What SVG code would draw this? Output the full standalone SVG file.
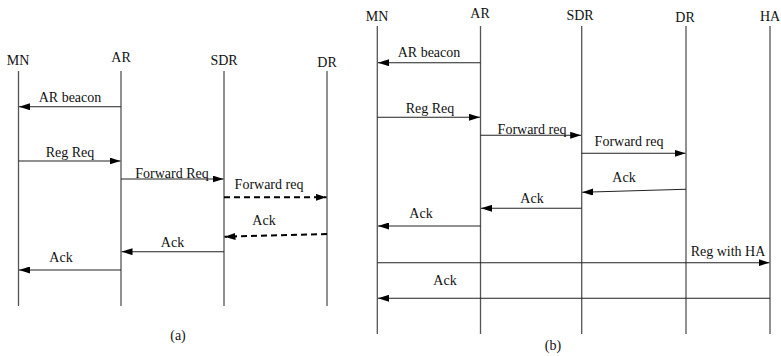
<svg xmlns="http://www.w3.org/2000/svg" width="781" height="356" viewBox="0 0 781 356">
<defs>
<marker id="ah" markerWidth="11" markerHeight="7" refX="11" refY="3.5" orient="auto" markerUnits="userSpaceOnUse">
<path d="M0,0 L11,3.5 L0,7 Z" fill="#000"/>
</marker>
<style>
text{font-family:"Liberation Serif","Times New Roman",serif;font-size:14px;fill:#111;text-anchor:middle}
.life{stroke:#555;stroke-width:1.3;fill:none}
.msg{stroke:#222;stroke-width:1.1;fill:none;marker-end:url(#ah)}
.dash{stroke:#000;stroke-width:2;stroke-dasharray:6,4;fill:none;marker-end:url(#ah)}
</style>
</defs>
<rect width="781" height="356" fill="#fff"/>
<!-- Diagram (a) -->
<g id="a-MN"><text x="18" y="65">MN</text><line class="life" x1="18.5" y1="71" x2="18.5" y2="306"/></g>
<g id="a-AR"><text x="121" y="62">AR</text><line class="life" x1="121" y1="71" x2="121" y2="306"/></g>
<g id="a-SDR"><text x="224" y="65">SDR</text><line class="life" x1="224" y1="71" x2="224" y2="306"/></g>
<g id="a-DR"><text x="327" y="67">DR</text><line class="life" x1="327" y1="71" x2="327" y2="306"/></g>
<g id="a-connectors">
<line class="msg" x1="121" y1="106.7" x2="19" y2="106.7"/>
<text x="70" y="101.7">AR beacon</text>
<line class="msg" x1="18.5" y1="161" x2="120.5" y2="161"/>
<text x="70" y="156.7">Reg Req</text>
<line class="msg" x1="121" y1="179" x2="223.5" y2="179"/>
<text x="172" y="178">Forward Req</text>
<line class="dash" x1="224" y1="197.3" x2="326.5" y2="197.3"/>
<text x="269" y="189">Forward req</text>
<line class="dash" x1="327" y1="234" x2="224.5" y2="236.7"/>
<text x="264" y="225">Ack</text>
<line class="msg" x1="224" y1="251.7" x2="121.5" y2="251.7"/>
<text x="172.5" y="246.7">Ack</text>
<line class="msg" x1="121" y1="270" x2="19" y2="270"/>
<text x="61" y="261.7">Ack</text>
</g>
<text x="178" y="340">(a)</text>
<!-- Diagram (b) -->
<g id="b-MN"><text x="377" y="20.5">MN</text><line class="life" x1="377.3" y1="26" x2="377.3" y2="334"/></g>
<g id="b-AR"><text x="480" y="17.5">AR</text><line class="life" x1="480.5" y1="26" x2="480.5" y2="334"/></g>
<g id="b-SDR"><text x="580" y="20">SDR</text><line class="life" x1="581.7" y1="26" x2="581.7" y2="334"/></g>
<g id="b-DR"><text x="685" y="21.7">DR</text><line class="life" x1="686" y1="26" x2="686" y2="334"/></g>
<g id="b-HA"><text x="770" y="20.7">HA</text><line class="life" x1="770" y1="26" x2="770" y2="334"/></g>
<g id="b-connectors">
<line class="msg" x1="480.5" y1="62.7" x2="378" y2="62.7"/>
<text x="429" y="57.3">AR beacon</text>
<line class="msg" x1="377.3" y1="117.3" x2="480" y2="117.3"/>
<text x="430" y="113.3">Reg Req</text>
<line class="msg" x1="480.5" y1="135.3" x2="581.2" y2="135.3"/>
<text x="532" y="134.3">Forward req</text>
<line class="msg" x1="581.7" y1="153.3" x2="685.5" y2="153.3"/>
<text x="629" y="145.7">Forward req</text>
<line class="msg" x1="686" y1="189.3" x2="582.2" y2="192.3"/>
<text x="624" y="181.7">Ack</text>
<line class="msg" x1="581.7" y1="208.3" x2="481" y2="208.3"/>
<text x="532" y="202.7">Ack</text>
<line class="msg" x1="480.5" y1="226" x2="378" y2="226"/>
<text x="421" y="218.3">Ack</text>
<line class="msg" x1="377.3" y1="262.7" x2="769.5" y2="262.7"/>
<text x="728" y="255.7">Reg with HA</text>
<line class="msg" x1="770" y1="298.3" x2="378" y2="298.3"/>
<text x="445" y="285">Ack</text>
</g>
<text x="553" y="350">(b)</text>
</svg>
